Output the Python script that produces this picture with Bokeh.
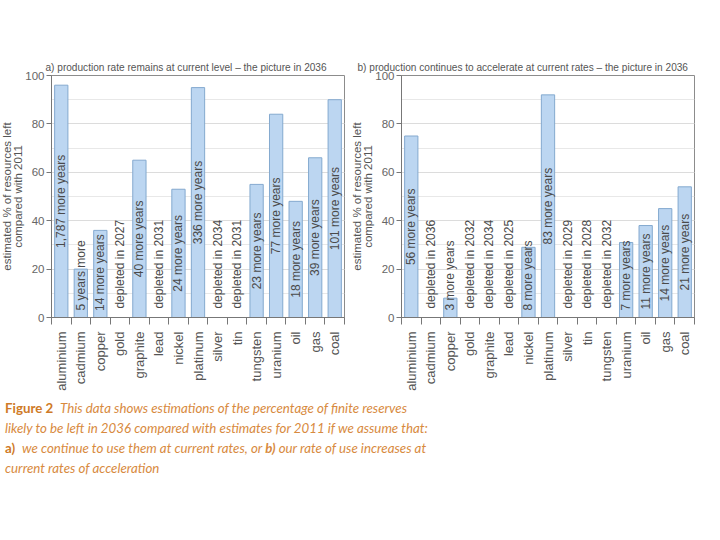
import math
from bokeh.plotting import figure
from bokeh.models import (Range1d, FixedTicker, SingleIntervalTicker,
                          CustomJSTickFormatter, Title, Div)
from bokeh.layouts import column, row
from bokeh.embed import file_html
from bokeh.resources import INLINE
from bokeh.core.properties import value

categories = ["aluminium", "cadmium", "copper", "gold", "graphite", "lead",
              "nickel", "platinum", "silver", "tin", "tungsten", "uranium",
              "oil", "gas", "coal"]

values_a = [96, 20, 36, 0, 65, 0, 53, 95, 0, 0, 55, 84, 48, 66, 90]
labels_a = ["1,787 more years", "5 years more", "14 more years", "depleted in 2027",
            "40 more years", "depleted in 2031", "24 more years", "336 more years",
            "depleted in 2034", "depleted in 2031", "23 more years", "77 more years",
            "18 more years", "39 more years", "101 more years"]

values_b = [75, 0, 8, 0, 0, 0, 29, 92, 0, 0, 0, 31, 38, 45, 54]
labels_b = ["56 more years", "depleted in 2036", "3 more years", "depleted in 2032",
            "depleted in 2034", "depleted in 2025", "8 more years", "83 more years",
            "depleted in 2029", "depleted in 2028", "depleted in 2032", "7 more years",
            "11 more years", "14 more years", "21 more years"]

title_a = "a) production rate remains at current level \u2013 the picture in 2036"
title_b = "b) production continues to accelerate at current rates \u2013 the picture in 2036"
y_label_lines = ["estimated % of resources left", "compared with 2011"]

caption_lines = [
    ("Figure 2", "This data shows estimations of the percentage of finite reserves"),
    ("", "likely to be left in 2036 compared with estimates for 2011 if we assume that:"),
    ("a)", "we continue to use them at current rates, or <b>b)</b> our rate of use increases at"),
    ("", "current rates of acceleration"),
]

FONT = "Liberation Sans"
FW, FH = 293, 242
TOP, BOTTOM = 75, 60
BAR_FILL = "#bcd6f1"
BAR_LINE = "#84a9cf"


def make(title, values, labels, bl, br, title_offset):
    n = len(categories)
    centers = [i + 0.5 for i in range(n)]
    p = figure(frame_width=FW, frame_height=FH,
               x_range=Range1d(0, n), y_range=Range1d(0, 100),
               output_backend="svg", toolbar_location=None, tools="",
               min_border_left=bl, min_border_right=br,
               min_border_top=TOP, min_border_bottom=BOTTOM)
    p.outline_line_color = "#8c8c8c"
    p.background_fill_color = "white"
    p.border_fill_color = "white"

    p.title.text = title
    p.title.align = "left"
    p.title.offset = title_offset
    p.title.text_font = FONT
    p.title.text_font_size = "10.1px"
    p.title.text_font_style = "normal"
    p.title.text_color = "#555555"
    p.title.standoff = 6

    xa = p.xaxis[0]
    xa.ticker = FixedTicker(ticks=centers, minor_ticks=list(range(n + 1)))
    xa.formatter = CustomJSTickFormatter(args=dict(names=categories),
                                         code="return names[Math.floor(tick)];")
    xa.major_label_orientation = math.pi / 2
    xa.major_tick_line_color = None
    xa.major_tick_out = 0
    xa.major_tick_in = 0
    xa.minor_tick_out = 7
    xa.minor_tick_in = 0
    xa.minor_tick_line_color = "#777777"
    xa.axis_line_color = "#777777"
    xa.major_label_standoff = 7
    xa.major_label_text_font = FONT
    xa.major_label_text_font_size = "13px"
    xa.major_label_text_color = "#555555"
    p.xgrid.visible = False

    ya = p.yaxis[0]
    ya.ticker = SingleIntervalTicker(interval=20, num_minor_ticks=2)
    ya.minor_tick_line_color = None
    ya.major_tick_out = 5
    ya.major_tick_in = 0
    ya.major_tick_line_color = "#777777"
    ya.axis_line_color = "#777777"
    ya.major_label_standoff = 2
    ya.major_label_text_font = FONT
    ya.major_label_text_font_size = "11.5px"
    ya.major_label_text_color = "#666666"
    p.ygrid.grid_line_color = "#dcdcdc"
    p.ygrid.minor_grid_line_color = "#e8e8e8"

    bx = [c for c, v in zip(centers, values) if v > 0]
    bv = [v for v in values if v > 0]
    p.vbar(x=bx, top=bv, bottom=0, width=0.68,
           fill_color=BAR_FILL, line_color=BAR_LINE, line_width=1)

    px_per_unit = FH / 100.0
    char_px = 5.6
    label_y = []
    for v, t in zip(values, labels):
        half = len(t) * char_px / 2.0 / px_per_unit
        label_y.append(max(v / 2.0, 3.5 + half))
    p.text(x=centers, y=label_y, text=labels, angle=math.pi / 2,
           text_align="center", text_baseline="middle",
           text_font=value(FONT), text_font_size="12px", text_color="#4a4a4a")

    # two-line y axis title, innermost line first
    for line in reversed(y_label_lines):
        p.add_layout(Title(text=line, align="center", standoff=-3,
                           text_font=FONT, text_font_size="11.5px",
                           text_font_style="normal", text_color="#555555"),
                     "left")
    return p


p1 = make(title_a, values_a, labels_a, 48, 6, -6)
p2 = make(title_b, values_b, labels_b, 48, 14, -44)

html_lines = []
for bold, rest in caption_lines:
    if bold:
        html_lines.append('<b style="font-style:normal;color:#cf7a26">%s</b>&nbsp; <i>%s</i>'
                          % (bold, rest))
    else:
        html_lines.append('<i>%s</i>' % rest)
caption_html = ('<div style="font-family:Lato, \'Open Sans\', sans-serif; font-size:13.3px; '
                'line-height:20px; color:#d88a3e; white-space:nowrap;">'
                + "<br>".join(html_lines) + "</div>")
div = Div(text=caption_html, width=700, height=90)

layout = column(row(p1, p2), div)
open("out.html", "w").write(file_html(layout, INLINE))
